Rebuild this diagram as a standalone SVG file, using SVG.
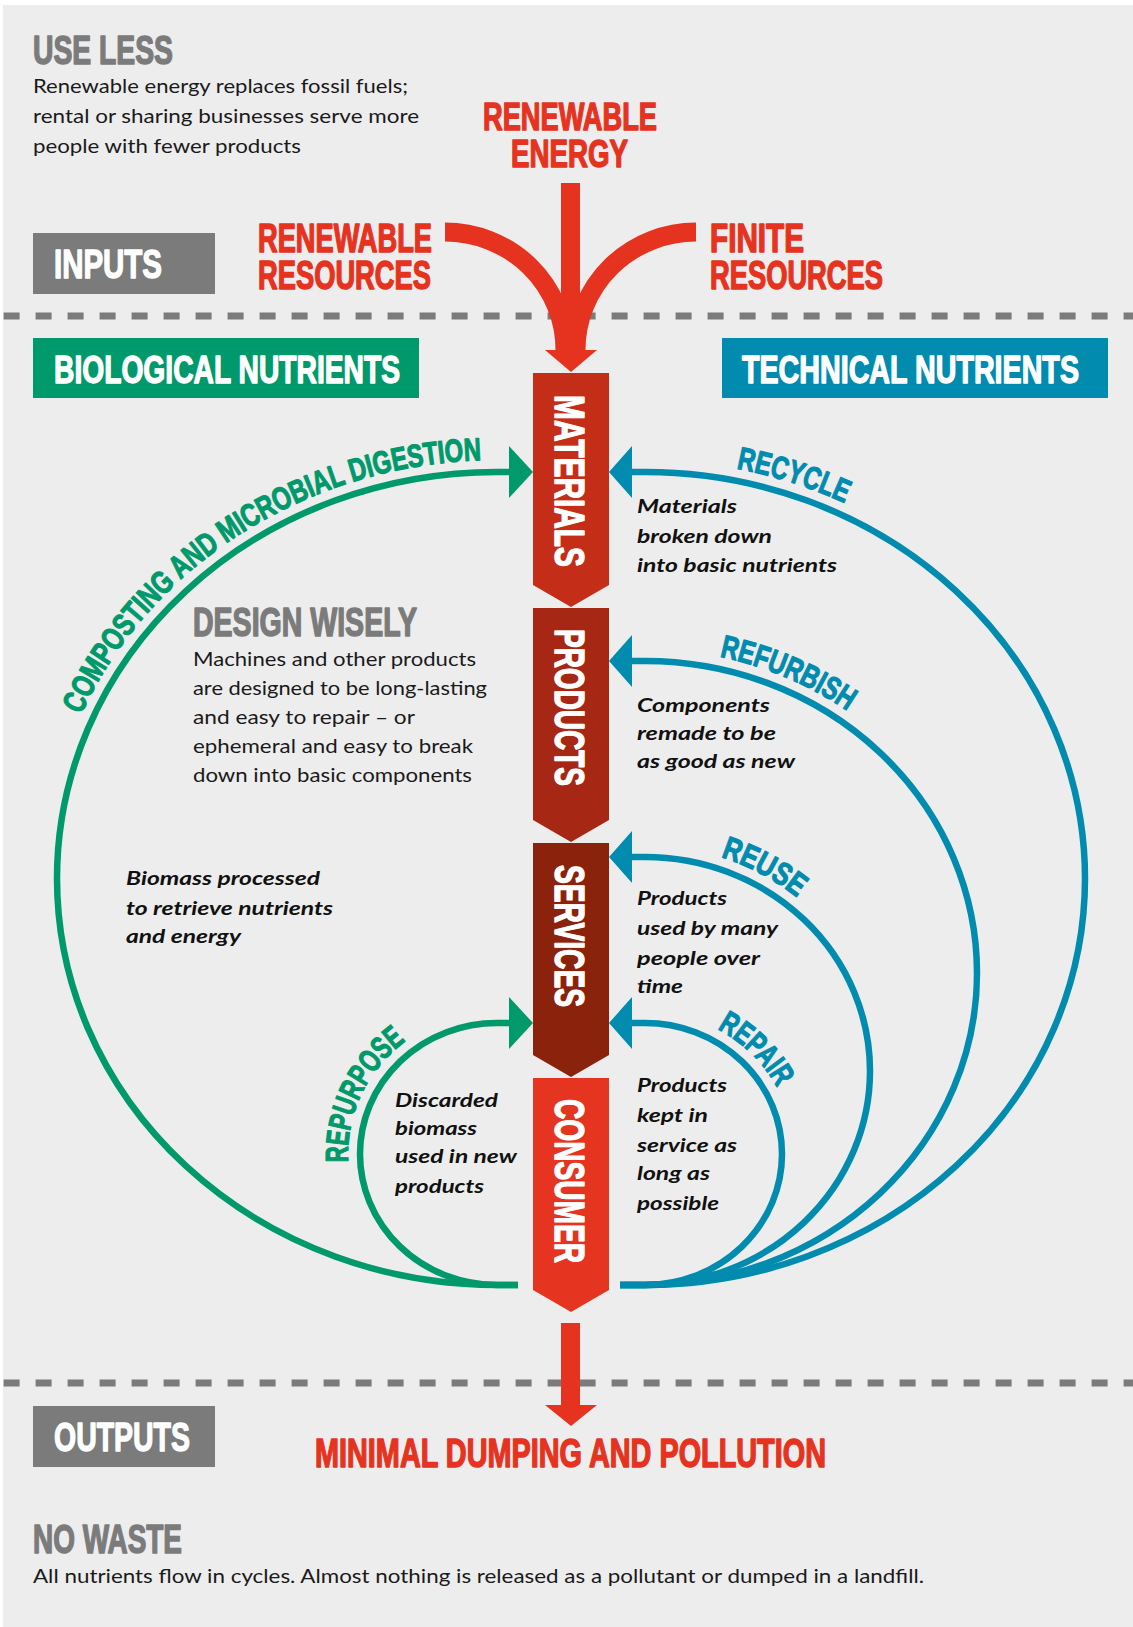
<svg xmlns="http://www.w3.org/2000/svg" width="1133" height="1627" viewBox="0 0 1133 1627">
<style>
.d{font-family:"Liberation Sans",Arial,sans-serif;font-weight:700;stroke-linejoin:round}
.red{fill:#E5331F;stroke:#E5331F;stroke-width:1.5}
.gry{fill:#7B7B7B;stroke:#7B7B7B;stroke-width:1.5}
.wht{fill:#fff;stroke:#fff;stroke-width:1.4}
.grn{fill:#00996B;stroke:#00996B;stroke-width:1.2}
.blu{fill:#008BAF;stroke:#008BAF;stroke-width:1.2}
.b{font-family:Lato,"Liberation Sans",sans-serif;font-size:20px;fill:#1a1a1a}
.i{font-family:Lato,"Liberation Sans",sans-serif;font-style:italic;font-weight:700;font-size:19px;fill:#111}
.dash{stroke:#7B7B7B;stroke-width:7;stroke-dasharray:16 16;fill:none}
.gl{fill:none;stroke:#00996B;stroke-width:6.5}
.bl{fill:none;stroke:#008BAF;stroke-width:6.5}
.rl{fill:none;stroke:#E5331F;stroke-width:19}
.ga{fill:#00996B}
.ba{fill:#008BAF}
.ra{fill:#E5331F}
</style>
<defs>
<path id="pRecycle" d="M645,460 A452 418.5 0 0 1 1097,878.5"/>
<path id="pRefurb" d="M645,649 A344 324 0 0 1 989,973"/>
<path id="pReuse" d="M645,845 A237 226 0 0 1 882,1071"/>
<path id="pRepair" d="M645,1011 A149 143 0 0 1 794,1154"/>
<path id="pComp" d="M45,878.5 A452 418.5 0 0 1 497,460"/>
<path id="pRepurp" d="M497,1297 A149 143 0 0 1 348,1154 A149 143 0 0 1 497,1011"/>
</defs>
<rect x="3" y="5" width="1130" height="1622" fill="#EDEDED"/>

<g id="use-less">
<text class="d gry" x="33" y="64" font-size="40" textLength="140" lengthAdjust="spacingAndGlyphs">USE LESS</text>
<text class="b" x="33" y="93" textLength="375" lengthAdjust="spacingAndGlyphs">Renewable energy replaces fossil fuels;</text>
<text class="b" x="33" y="123" textLength="386" lengthAdjust="spacingAndGlyphs">rental or sharing businesses serve more</text>
<text class="b" x="33" y="152.5" textLength="268" lengthAdjust="spacingAndGlyphs">people with fewer products</text>
</g>

<g id="renewable-energy">
<text class="d red" x="483" y="130" font-size="39" textLength="174" lengthAdjust="spacingAndGlyphs">RENEWABLE</text>
<text class="d red" x="511" y="167" font-size="39" textLength="117" lengthAdjust="spacingAndGlyphs">ENERGY</text>
</g>

<g id="inputs">
<rect x="33" y="233" width="182" height="61" fill="#7B7B7B"/>
<text class="d wht" x="54" y="278" font-size="41" textLength="108" lengthAdjust="spacingAndGlyphs">INPUTS</text>
</g>

<g id="renewable-resources">
<text class="d red" x="258" y="252" font-size="40" textLength="174" lengthAdjust="spacingAndGlyphs">RENEWABLE</text>
<text class="d red" x="258" y="289" font-size="40" textLength="173" lengthAdjust="spacingAndGlyphs">RESOURCES</text>
</g>

<g id="finite-resources">
<text class="d red" x="710" y="252" font-size="40" textLength="94" lengthAdjust="spacingAndGlyphs">FINITE</text>
<text class="d red" x="710" y="289" font-size="40" textLength="173" lengthAdjust="spacingAndGlyphs">RESOURCES</text>
</g>

<g id="dividers">
<line class="dash" x1="3.6" y1="316" x2="1133" y2="316"/>
<line class="dash" x1="3.6" y1="1383" x2="1133" y2="1383"/>
</g>

<g id="biological-nutrients">
<rect x="33" y="338" width="386" height="60" fill="#00996B"/>
<text class="d wht" x="54" y="383" font-size="39" textLength="346" lengthAdjust="spacingAndGlyphs">BIOLOGICAL NUTRIENTS</text>
</g>

<g id="technical-nutrients">
<rect x="722" y="338" width="386" height="60" fill="#008BAF"/>
<text class="d wht" x="742" y="383" font-size="39" textLength="337" lengthAdjust="spacingAndGlyphs">TECHNICAL NUTRIENTS</text>
</g>

<g id="connectors">
<line class="rl" x1="570.5" y1="183" x2="570.5" y2="352"/>
<path class="rl" d="M445,232 A120 118 0 0 1 565,350"/>
<path class="rl" d="M696,232 A120 118 0 0 0 576,350"/>
<polygon class="ra" points="545,350 597,350 571,372"/>
<line class="rl" x1="570.5" y1="1323" x2="570.5" y2="1407"/>
<polygon class="ra" points="545,1405 597,1405 571,1426"/>

<path class="bl" d="M620,1285 L645,1285 A440 406.5 0 0 0 1085,878.5 A440 406.5 0 0 0 645,472 L630,472"/>
<path class="bl" d="M620,1285 L645,1285 A332 312 0 0 0 977,973 A332 312 0 0 0 645,661 L630,661"/>
<path class="bl" d="M620,1285 L645,1285 A225 214 0 0 0 870,1071 A225 214 0 0 0 645,857 L630,857"/>
<path class="bl" d="M620,1285 L645,1285 A137 131 0 0 0 782,1154 A137 131 0 0 0 645,1023 L630,1023"/>
<polygon class="ba" points="609,472 632,446 632,498"/>
<polygon class="ba" points="609,661 632,635 632,687"/>
<polygon class="ba" points="609,857 632,831 632,883"/>
<polygon class="ba" points="609,1023 632,997 632,1049"/>

<path class="gl" d="M518,1285 L497,1285 A440 406.5 0 0 1 57,878.5 A440 406.5 0 0 1 497,472 L512,472"/>
<path class="gl" d="M518,1285 L497,1285 A137 131 0 0 1 360,1154 A137 131 0 0 1 497,1023 L512,1023"/>
<polygon class="ga" points="533,472 509,446 509,498"/>
<polygon class="ga" points="533,1023 509,997 509,1049"/>
</g>

<g id="loop-labels">
<text class="d blu" font-size="32"><textPath href="#pRecycle" startOffset="92" textLength="114" lengthAdjust="spacingAndGlyphs">RECYCLE</textPath></text>
<text class="d blu" font-size="32"><textPath href="#pRefurb" startOffset="75" textLength="140" lengthAdjust="spacingAndGlyphs">REFURBISH</textPath></text>
<text class="d blu" font-size="32"><textPath href="#pReuse" startOffset="77" textLength="87" lengthAdjust="spacingAndGlyphs">REUSE</textPath></text>
<text class="d blu" font-size="32"><textPath href="#pRepair" startOffset="75" textLength="85" lengthAdjust="spacingAndGlyphs">REPAIR</textPath></text>
<text class="d grn" font-size="32"><textPath href="#pComp" startOffset="169" textLength="499" lengthAdjust="spacingAndGlyphs">COMPOSTING AND MICROBIAL DIGESTION</textPath></text>
<text class="d grn" font-size="32"><textPath href="#pRepurp" startOffset="221" textLength="140" lengthAdjust="spacingAndGlyphs">REPURPOSE</textPath></text>
</g>

<g id="materials">
<polygon fill="#C42E18" points="533,373 609,373 609,585 571,607 533,585"/>
<text class="d wht" transform="translate(555,395) rotate(90)" font-size="42" textLength="172" lengthAdjust="spacingAndGlyphs">MATERIALS</text>
</g>
<g id="products">
<polygon fill="#A62814" points="533,608 609,608 609,820 571,842 533,820"/>
<text class="d wht" transform="translate(555,629) rotate(90)" font-size="42" textLength="157" lengthAdjust="spacingAndGlyphs">PRODUCTS</text>
</g>
<g id="services">
<polygon fill="#8A220C" points="533,843 609,843 609,1055 571,1077 533,1055"/>
<text class="d wht" transform="translate(555,865) rotate(90)" font-size="42" textLength="142" lengthAdjust="spacingAndGlyphs">SERVICES</text>
</g>
<g id="consumer">
<polygon fill="#E53420" points="533,1078 609,1078 609,1290 571,1312 533,1290"/>
<text class="d wht" transform="translate(555,1099) rotate(90)" font-size="42" textLength="164" lengthAdjust="spacingAndGlyphs">CONSUMER</text>
</g>

<g id="design-wisely">
<text class="d gry" x="193" y="636" font-size="40" textLength="224" lengthAdjust="spacingAndGlyphs">DESIGN WISELY</text>
<text class="b" x="193" y="666" textLength="283" lengthAdjust="spacingAndGlyphs">Machines and other products</text>
<text class="b" x="193" y="695" textLength="294" lengthAdjust="spacingAndGlyphs">are designed to be long-lasting</text>
<text class="b" x="193" y="724" textLength="222" lengthAdjust="spacingAndGlyphs">and easy to repair – or</text>
<text class="b" x="193" y="753" textLength="280" lengthAdjust="spacingAndGlyphs">ephemeral and easy to break</text>
<text class="b" x="193" y="782" textLength="279" lengthAdjust="spacingAndGlyphs">down into basic components</text>
</g>

<g id="recycle-note">
<text class="i" x="637" y="513" textLength="100" lengthAdjust="spacingAndGlyphs">Materials</text>
<text class="i" x="637" y="543" textLength="135" lengthAdjust="spacingAndGlyphs">broken down</text>
<text class="i" x="637" y="572" textLength="200" lengthAdjust="spacingAndGlyphs">into basic nutrients</text>
</g>
<g id="refurbish-note">
<text class="i" x="637" y="712" textLength="133" lengthAdjust="spacingAndGlyphs">Components</text>
<text class="i" x="637" y="740" textLength="139" lengthAdjust="spacingAndGlyphs">remade to be</text>
<text class="i" x="637" y="768" textLength="158" lengthAdjust="spacingAndGlyphs">as good as new</text>
</g>
<g id="reuse-note">
<text class="i" x="637" y="905" textLength="90" lengthAdjust="spacingAndGlyphs">Products</text>
<text class="i" x="637" y="935" textLength="141" lengthAdjust="spacingAndGlyphs">used by many</text>
<text class="i" x="637" y="965" textLength="123" lengthAdjust="spacingAndGlyphs">people over</text>
<text class="i" x="637" y="993" textLength="46" lengthAdjust="spacingAndGlyphs">time</text>
</g>
<g id="repair-note">
<text class="i" x="637" y="1092" textLength="90" lengthAdjust="spacingAndGlyphs">Products</text>
<text class="i" x="637" y="1122" textLength="71" lengthAdjust="spacingAndGlyphs">kept in</text>
<text class="i" x="637" y="1152" textLength="100" lengthAdjust="spacingAndGlyphs">service as</text>
<text class="i" x="637" y="1180" textLength="73" lengthAdjust="spacingAndGlyphs">long as</text>
<text class="i" x="637" y="1210" textLength="82" lengthAdjust="spacingAndGlyphs">possible</text>
</g>
<g id="biomass-note">
<text class="i" x="126" y="885" textLength="194" lengthAdjust="spacingAndGlyphs">Biomass processed</text>
<text class="i" x="126" y="915" textLength="207" lengthAdjust="spacingAndGlyphs">to retrieve nutrients</text>
<text class="i" x="126" y="943" textLength="115" lengthAdjust="spacingAndGlyphs">and energy</text>
</g>
<g id="repurpose-note">
<text class="i" x="395" y="1107" textLength="103" lengthAdjust="spacingAndGlyphs">Discarded</text>
<text class="i" x="395" y="1135" textLength="82" lengthAdjust="spacingAndGlyphs">biomass</text>
<text class="i" x="395" y="1163" textLength="122" lengthAdjust="spacingAndGlyphs">used in new</text>
<text class="i" x="395" y="1193" textLength="89" lengthAdjust="spacingAndGlyphs">products</text>
</g>

<g id="outputs">
<rect x="33" y="1406" width="182" height="61" fill="#7B7B7B"/>
<text class="d wht" x="54" y="1451" font-size="41" textLength="136" lengthAdjust="spacingAndGlyphs">OUTPUTS</text>
</g>
<g id="minimal-dumping">
<text class="d red" x="315" y="1467" font-size="40" textLength="511" lengthAdjust="spacingAndGlyphs">MINIMAL DUMPING AND POLLUTION</text>
</g>
<g id="no-waste">
<text class="d gry" x="33" y="1553" font-size="40" textLength="149" lengthAdjust="spacingAndGlyphs">NO WASTE</text>
<text class="b" x="33" y="1583" textLength="891" lengthAdjust="spacingAndGlyphs">All nutrients flow in cycles. Almost nothing is released as a pollutant or dumped in a landfill.</text>
</g>
</svg>
